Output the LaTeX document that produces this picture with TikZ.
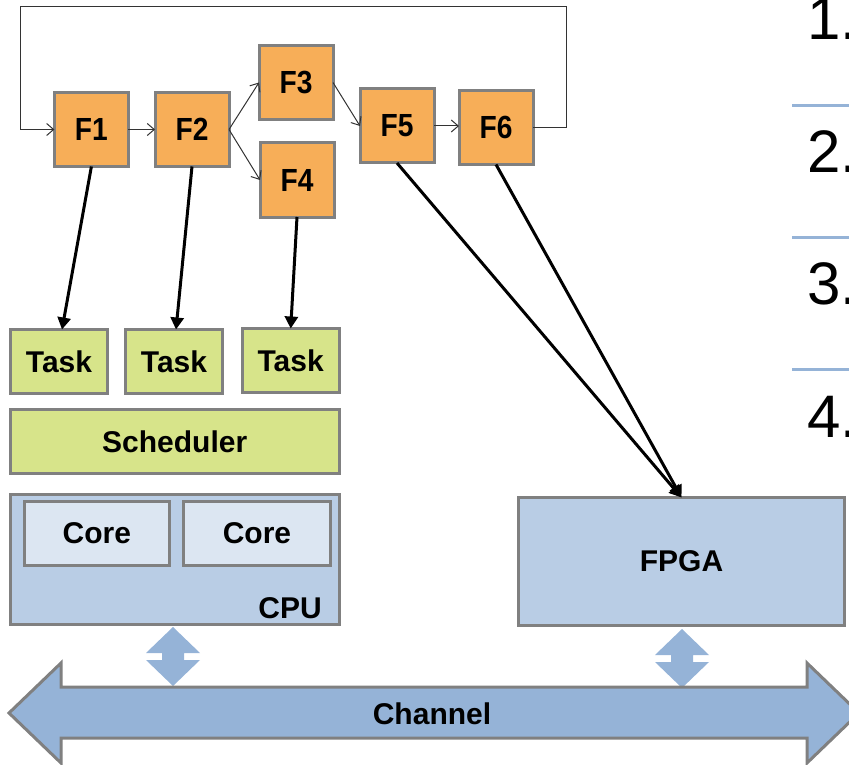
\documentclass[tikz,border=0pt]{standalone}
\usepackage{fontspec}
\usepackage{graphicx}
\setmainfont{Liberation Sans}
\newfontfamily\narrowf{Liberation Sans}[FakeStretch=0.88]
\usetikzlibrary{arrows.meta}
\definecolor{forange}{RGB}{247,174,88}
\definecolor{tgreen}{RGB}{215,228,138}
\definecolor{cpublue}{RGB}{185,205,229}
\definecolor{coreblue}{RGB}{220,230,242}
\definecolor{chanblue}{RGB}{149,179,215}
\definecolor{bgray}{RGB}{128,128,128}
\begin{document}
\begin{tikzpicture}[x=1pt,y=-1pt,
  box/.style={draw=bgray, line width=3pt, inner sep=0pt, outer sep=0pt,
    font=\bfseries\fontsize{30}{36}\selectfont},
  fbox/.style={box, fill=forange, minimum width=74pt, minimum height=74pt,
    font=\narrowf\bfseries\fontsize{32}{36}\selectfont},
  taskbox/.style={box, fill=tgreen, minimum width=97pt, minimum height=64pt},
  thinarrow/.style={draw=black!80, line width=1pt, -{Straight Barb[length=7pt,width=12pt]}},
  thickarrow/.style={draw=black, line width=3pt, -{Triangle[length=12pt,width=13pt]}},
  sepline/.style={draw=chanblue, line width=3pt},
  numtext/.style={anchor=base west, inner sep=0pt, font=\fontsize{60}{60}\selectfont},
  updown/.pic={
    \fill[chanblue] (0,0) -- (27,26) -- (11,26) -- (11,33) -- (27,33) -- (0,59)
      -- (-27,33) -- (-11,33) -- (-11,26) -- (-27,26) -- cycle;
  }
]
\useasboundingbox (0,0) rectangle (849,765);

% function nodes
\node[fbox] (F1) at (91.4,129.5) {F1};
\node[fbox] (F2) at (192,129.5) {F2};
\node[fbox] (F3) at (296,82.5) {F3};
\node[fbox] (F4) at (297,180) {F4};
\node[fbox] (F5) at (397,126) {F5};
\node[fbox] (F6) at (496,127.5) {F6};

% tasks, scheduler, cpu
\node[taskbox] (T1) at (59,361.5) {Task};
\node[taskbox] (T2) at (174,361.5) {Task};
\node[taskbox] (T3) at (290.7,360.5) {Task};
\node[box, fill=tgreen, minimum width=329pt, minimum height=64pt] (sched) at (174.7,441.4) {Scheduler};
\node[box, fill=cpublue, minimum width=329pt, minimum height=130pt] (cpu) at (174.7,559.5) {};
\node[box, fill=coreblue, minimum width=145pt, minimum height=64pt] (core1) at (96.9,533.5) {Core};
\node[box, fill=coreblue, minimum width=147pt, minimum height=64pt] (core2) at (257,533.5) {Core};
\node[anchor=base east, inner sep=0pt, font=\bfseries\fontsize{30}{36}\selectfont] (cpulabel) at (322,618) {CPU};
\node[box, fill=cpublue, minimum width=326pt, minimum height=128pt] (fpga) at (681.5,561.5) {FPGA};

% thin flow arrows
\draw[thinarrow] (F1.east) -- (F2.west);
\draw[thinarrow] (F2.east) -- (F3.west);
\draw[thinarrow] (F2.east) -- (F4.west);
\draw[thinarrow] (F3.east) -- (F5.west);
\draw[thinarrow] (F5.east) -- (F5.east -| F6.west);
\coordinate (loopR) at (566,7);
\coordinate (loopL) at (20,7);
\draw[thinarrow] (F6.east) -| (loopR) -- (loopL) |- (F1.west);

% thick mapping arrows
\draw[thickarrow] (F1.south) -- ([xshift=3pt]T1.north);
\draw[thickarrow] (F2.south) -- ([xshift=2pt]T2.north);
\draw[thickarrow] (F4.south) -- (T3.north);
\draw[thickarrow] (F5.south) -- (fpga.north);
\draw[thickarrow] (F6.south) -- (fpga.north);

% channel
\pic at (173,627) {updown};
\pic at (682,629) {updown};
\draw[draw=bgray, fill=chanblue, line width=3pt, line join=miter]
  (9,713) -- (61,663) -- (61,687) -- (807,687) -- (807,663) -- (859,713)
  -- (807,763) -- (807,738) -- (61,738) -- (61,763) -- cycle;
\node[inner sep=0pt, font=\bfseries\fontsize{30}{36}\selectfont] (chan) at (432,714) {Channel};

% right list
\node[numtext] (n1) at (807,40) {1.};
\node[numtext] (n2) at (807,173) {2.};
\node[numtext] (n3) at (807,304) {3.};
\node[numtext] (n4) at (807,437) {4.};
\draw[sepline] (792,106) -- (849,106);
\draw[sepline] (792,237) -- (849,237);
\draw[sepline] (792,369) -- (849,369);
\end{tikzpicture}
\end{document}
